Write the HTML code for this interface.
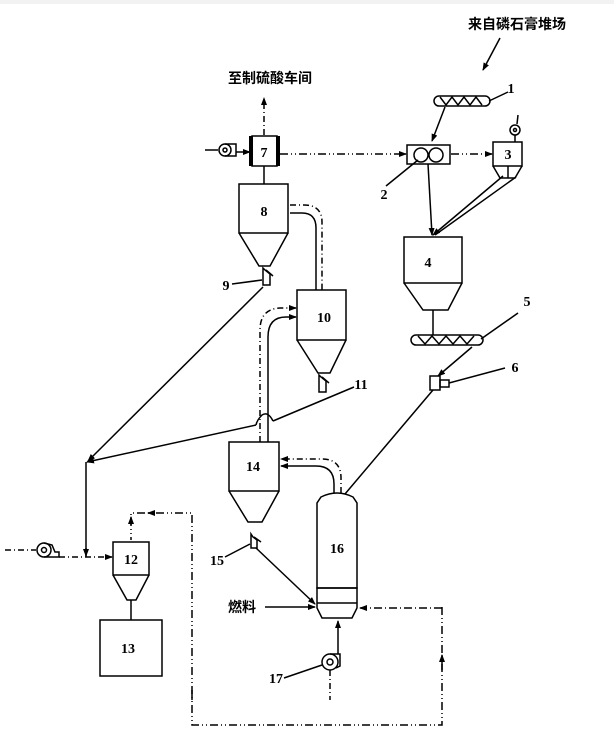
<!DOCTYPE html>
<html><head><meta charset="utf-8"><style>
html,body{margin:0;padding:0;background:#fff;width:614px;height:738px;overflow:hidden}
svg text{font-family:"Liberation Serif","Noto Serif CJK SC",serif;font-weight:bold;fill:#000}
.cj{font-family:"Liberation Sans","Noto Sans CJK SC",sans-serif;font-weight:bold}
</style></head><body>
<svg width="614" height="738" viewBox="0 0 614 738" xmlns="http://www.w3.org/2000/svg">
<defs>
<marker id="a" markerWidth="8" markerHeight="6" refX="7" refY="3" orient="auto" markerUnits="userSpaceOnUse"><path d="M0,0 L8,3 L0,6 z" fill="#000"/></marker>
</defs>
<rect x="0" y="0" width="614" height="4" fill="#f2f2f2"/>
<g stroke="#000" stroke-width="1.5" fill="none">
<!-- top labels arrows -->
<line x1="500" y1="38" x2="483" y2="70" marker-end="url(#a)"/>
<line x1="264" y1="135" x2="264" y2="98" stroke-dasharray="6,3,1,3" marker-end="url(#a)"/>
<!-- fan 7 -->
<line x1="205" y1="150" x2="218" y2="150"/>
<circle cx="225" cy="150" r="6"/><circle cx="225" cy="150" r="2"/>
<path d="M225,144 L236,144 L236,156 L225,156"/>
<line x1="236" y1="152" x2="250" y2="152" marker-end="url(#a)"/>
<!-- box 7 -->
<rect x="252" y="136" width="25" height="30" fill="#fff"/>
<line x1="251" y1="136" x2="251" y2="166" stroke-width="4"/>
<line x1="278" y1="136" x2="278" y2="166" stroke-width="4"/>
<line x1="264" y1="166" x2="264" y2="184"/>
<!-- dash-dot 7->2->3 -->
<line x1="280" y1="154" x2="406" y2="154" stroke-dasharray="8,3,1,3,1,3" marker-end="url(#a)"/>
<line x1="451" y1="154" x2="492" y2="154" stroke-dasharray="8,3,1,3,1,3" marker-end="url(#a)"/>
<!-- box 2 -->
<rect x="407" y="145" width="43" height="19"/>
<circle cx="421" cy="155" r="7"/><circle cx="436" cy="155" r="7"/>
<line x1="386" y1="186" x2="418" y2="160"/>
<!-- conveyor 1 -->
<rect x="434" y="96" width="56" height="10" rx="5"/>
<path d="M440,97 L446,105 L452,97 L458,105 L464,97 L470,105 L476,97 L482,105"/>
<line x1="489" y1="101" x2="508" y2="92"/>
<line x1="445" y1="107" x2="432" y2="141" marker-end="url(#a)"/>
<!-- box 3 -->
<rect x="493" y="142" width="29" height="24"/>
<path d="M493,166 L500,178 L508,178 L508,166 M508,178 L515,178 L522,166"/>
<circle cx="515" cy="130" r="5"/><circle cx="515" cy="130" r="1.5"/>
<line x1="515" y1="135" x2="515" y2="142"/>
<line x1="517" y1="124" x2="518" y2="115"/>
<!-- to 4 -->
<line x1="428" y1="164" x2="432" y2="235" marker-end="url(#a)"/>
<line x1="503" y1="176" x2="433" y2="235" marker-end="url(#a)"/>
<line x1="516" y1="177" x2="435" y2="235"/>
<!-- box 4 -->
<path d="M404,237 L462,237 L462,283 L404,283 Z M404,283 L423,310 L448,310 L462,283"/>
<line x1="433" y1="310" x2="433" y2="335"/>
<!-- conveyor 5 -->
<rect x="411" y="335" width="72" height="10" rx="5"/>
<path d="M418,336 L425,344 L432,336 L439,344 L446,336 L453,344 L460,336 L467,344 L474,336"/>
<line x1="481" y1="339" x2="518" y2="313"/>
<line x1="472" y1="347" x2="438" y2="376" marker-end="url(#a)"/>
<!-- device 6 -->
<rect x="430" y="376" width="10" height="14"/>
<rect x="440" y="380" width="9" height="7"/>
<line x1="449" y1="383" x2="505" y2="368"/>
<line x1="433" y1="390" x2="345" y2="494"/>
<!-- box 8 -->
<path d="M239,184 L288,184 L288,233 L239,233 Z M239,233 L259,266 L270,266 L288,233"/>
<path d="M263,268 L263,285 L270,285 L270,274 L265,270 Z M266,270 L273,276"/>
<line x1="232" y1="284" x2="262" y2="280"/>
<!-- pipe 8->10 -->
<path d="M290,213 L302,213 Q316,213 316,228 L316,290"/>
<path d="M290,205 L304,205 Q322,205 322,222 L322,290" stroke-dasharray="6,3,1,3" />
<!-- box 10 -->
<path d="M297,290 L346,290 L346,340 L297,340 Z M297,340 L318,373 L330,373 L346,340"/>
<path d="M319,375 L319,392 L326,392 L326,381 L321,377 Z M322,377 L329,383"/>
<line x1="354" y1="387" x2="273" y2="421"/>
<path d="M273,421 Q268,411 262,415 Q257,420 256,425"/>
<line x1="256" y1="425" x2="87" y2="462" marker-end="url(#a)"/>
<line x1="263" y1="287" x2="88" y2="461" marker-end="url(#a)"/>
<line x1="86" y1="462" x2="86" y2="557"/>
<!-- pipe 14->10 -->
<path d="M260,442 L260,330 Q260,309 280,308 L296,308" stroke-dasharray="6,3,1,3" marker-end="url(#a)"/>
<path d="M268,442 L268,337 Q268,317 286,317 L296,317" marker-end="url(#a)"/>
<!-- box 14 -->
<path d="M229,442 L279,442 L279,491 L229,491 Z M229,491 L248,522 L262,522 L279,491"/>
<path d="M251,534 L251,548 L257,548 L257,540 L253,537 Z M254,537 L261,542"/>
<line x1="225" y1="557" x2="250" y2="544"/>
<line x1="256" y1="548" x2="315" y2="604" marker-end="url(#a)"/>
<!-- pipe 16->14 -->
<path d="M334,493 L334,484 Q334,466 316,466 L281,466" marker-end="url(#a)"/>
<path d="M341,493 L341,478 Q341,459 322,459 L281,459" stroke-dasharray="6,3,1,3" marker-end="url(#a)"/>
<!-- box 16 -->
<path d="M321,497 Q337,489 353,497 L357,503 L357,588 L317,588 L317,503 Z"/>
<path d="M317,588 L357,588 L357,608 L352,618 L322,618 L317,608 Z"/>
<line x1="317" y1="603" x2="357" y2="603"/>
<line x1="265" y1="607" x2="315" y2="607" marker-end="url(#a)"/>
<!-- fan 17 -->
<circle cx="330" cy="662" r="8"/><circle cx="330" cy="662" r="3"/>
<path d="M330,654 L340,654 L340,666 L336,668"/>
<line x1="338" y1="654" x2="338" y2="621" marker-end="url(#a)"/>
<line x1="330" y1="670" x2="330" y2="700" stroke-dasharray="6,3,1,3"/>
<line x1="284" y1="678" x2="322" y2="665"/>
<!-- loop -->
<path d="M442,607 L442,725 L192,725 L192,513 L131,513 L131,540" stroke-dasharray="8,3,1,3,1,3"/>
<line x1="442" y1="608" x2="360" y2="608" stroke-dasharray="8,3,1,3" marker-end="url(#a)"/>
<line x1="442" y1="670" x2="442" y2="655" marker-end="url(#a)"/>
<line x1="192" y1="700" x2="192" y2="690"/>
<line x1="155" y1="513" x2="148" y2="513" marker-end="url(#a)"/>
<line x1="131" y1="525" x2="131" y2="517" marker-end="url(#a)"/>
<!-- fan left -->
<line x1="5" y1="550" x2="36" y2="550" stroke-dasharray="6,3,1,3"/>
<circle cx="44" cy="550" r="7"/><circle cx="44" cy="550" r="2.5"/>
<path d="M44,543 L52,545 L55,552 L59,552 L59,557 L44,557"/>
<line x1="59" y1="557" x2="112" y2="557" stroke-dasharray="6,3,1,3" marker-end="url(#a)"/>
<line x1="86" y1="548" x2="86" y2="556" marker-end="url(#a)"/>
<!-- box 12 -->
<path d="M113,542 L149,542 L149,575 L113,575 Z M113,575 L127,600 L136,600 L149,575"/>
<line x1="131" y1="600" x2="131" y2="620"/>
<rect x="100" y="620" width="62" height="56"/>
</g>
<g font-size="14">
<text x="264" y="157" text-anchor="middle">7</text>
<text x="264" y="216" text-anchor="middle">8</text>
<text x="428" y="267" text-anchor="middle">4</text>
<text x="508" y="159" text-anchor="middle">3</text>
<text x="324" y="322" text-anchor="middle">10</text>
<text x="253" y="471" text-anchor="middle">14</text>
<text x="337" y="553" text-anchor="middle">16</text>
<text x="131" y="564" text-anchor="middle">12</text>
<text x="128" y="653" text-anchor="middle">13</text>
<text x="511" y="93" text-anchor="middle">1</text>
<text x="384" y="199" text-anchor="middle">2</text>
<text x="527" y="306" text-anchor="middle">5</text>
<text x="515" y="372" text-anchor="middle">6</text>
<text x="226" y="290" text-anchor="middle">9</text>
<text x="361" y="389" text-anchor="middle">11</text>
<text x="217" y="565" text-anchor="middle">15</text>
<text x="276" y="683" text-anchor="middle">17</text>
</g>
<g class="cj" font-size="14">
<text x="228" y="83" class="cj">至制硫酸车间</text>
<text x="468" y="29" class="cj">来自磷石膏堆场</text>
<text x="228" y="612" class="cj">燃料</text>
</g>
</svg>
</body></html>
